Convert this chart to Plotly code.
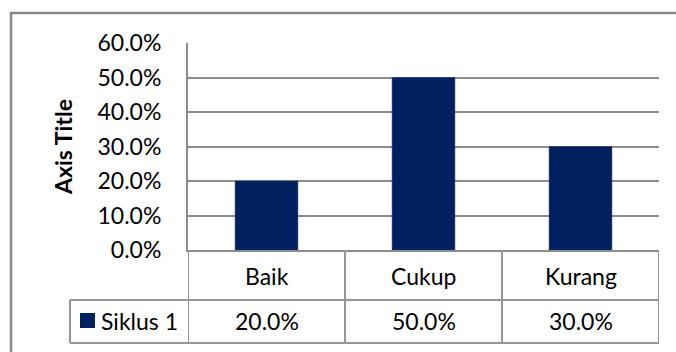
import plotly.graph_objects as go

# ---- data ----
categories = ["Baik", "Cukup", "Kurang"]
series_name = "Siklus 1"
values = [0.20, 0.50, 0.30]
y_title = "Axis Title"

W, H = 676, 352
def px(x):
    return x / W
def py(y):
    return 1 - y / H

FONT = "Lato"
BAR = "#002060"
GRID = "#8c8c8c"
TAB = "#969696"

fig = go.Figure()
fig.add_trace(go.Bar(x=categories, y=values, name=series_name,
                     marker=dict(color=BAR, line=dict(color="#1f3a6e", width=0.5)),
                     showlegend=False, hoverinfo="x+y"))

fig.update_layout(
    width=W, height=H, margin=dict(l=0, r=0, t=0, b=0, pad=0, autoexpand=False),
    paper_bgcolor="white", plot_bgcolor="white",
    bargap=0.6, showlegend=False,
    font=dict(family=FONT, size=23, color="black"),
    xaxis=dict(domain=[px(188), px(659)], showticklabels=False, ticks="",
               showgrid=False, showline=True, linecolor=GRID, linewidth=2,
               range=[-0.5, len(categories) - 0.5], fixedrange=True, automargin=False),
    yaxis=dict(domain=[py(250), py(43)], range=[0, 0.6], dtick=0.1,
               tickformat=".1%", showgrid=True, gridcolor=GRID, gridwidth=1.5,
               zeroline=False, showline=True, linecolor=GRID, linewidth=2,
               ticks="", ticklabelstandoff=20, fixedrange=True, automargin=False,
               tickfont=dict(family=FONT, size=23, color="black")),
)

shapes = []
# outer chart border (extends beyond the visible window)
shapes.append(dict(type="rect", xref="paper", yref="paper",
                   x0=px(11), x1=px(700), y0=py(13), y1=py(380),
                   line=dict(color="#878787", width=2.5), fillcolor="rgba(0,0,0,0)", layer="below"))
# data table lines
row_top, row_mid, row_bot = 250, 300, 343
n = len(categories)
for i in range(n + 1):
    shapes.append(dict(type="line", xref="x", yref="paper", x0=i - 0.5, x1=i - 0.5,
                       y0=py(row_top), y1=py(row_bot), line=dict(color=TAB, width=2)))
for yy in (row_mid, row_bot):
    shapes.append(dict(type="line", xref="paper", yref="paper", x0=px(70), x1=px(659),
                       y0=py(yy), y1=py(yy), line=dict(color=TAB, width=2)))
shapes.append(dict(type="line", xref="paper", yref="paper", x0=px(70), x1=px(70),
                   y0=py(row_mid), y1=py(row_bot), line=dict(color=TAB, width=2)))
# legend key
shapes.append(dict(type="rect", xref="paper", yref="paper", x0=px(80), x1=px(95),
                   y0=py(328), y1=py(313), fillcolor=BAR, line=dict(width=0)))
fig.update_layout(shapes=shapes)

ann = []
for c, v in zip(categories, values):
    ann.append(dict(x=c, xref="x", y=py(276), yref="paper", text=c, showarrow=False,
                    xanchor="center", yanchor="middle", font=dict(size=23)))
    ann.append(dict(x=c, xref="x", y=py(321), yref="paper", text=f"{v:.1%}", showarrow=False,
                    xanchor="center", yanchor="middle", font=dict(size=23)))
ann.append(dict(x=px(99), xref="paper", y=py(321), yref="paper", text=series_name,
                showarrow=False, xanchor="left", yanchor="middle", font=dict(size=23)))
ann.append(dict(x=px(63), xref="paper", y=py(147), yref="paper", text="<b>%s</b>" % y_title,
                showarrow=False, textangle=-90, xanchor="center", yanchor="middle",
                font=dict(size=23)))
fig.update_layout(annotations=ann)

fig.write_html("out.html")
